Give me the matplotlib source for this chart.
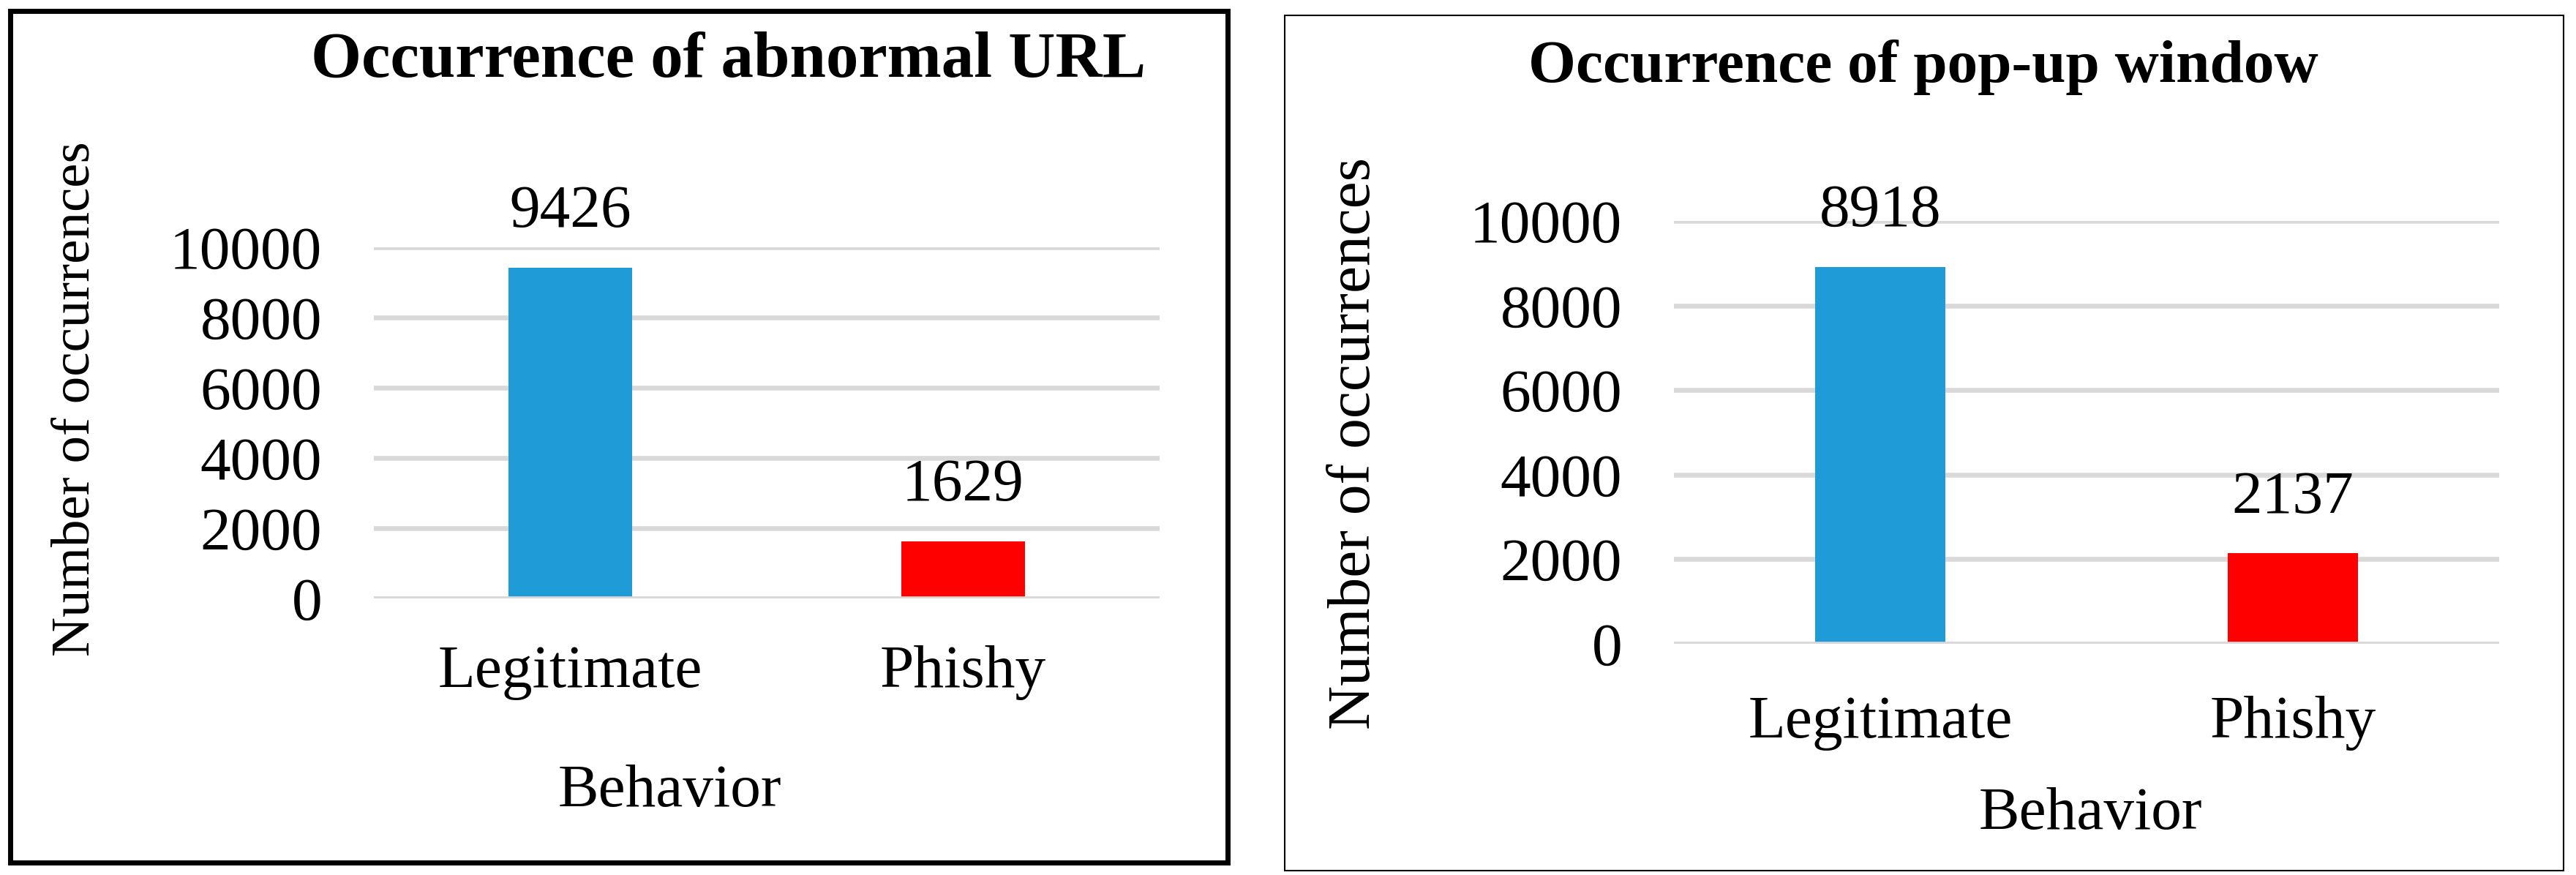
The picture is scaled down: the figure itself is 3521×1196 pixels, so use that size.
import matplotlib
matplotlib.use("Agg")
import matplotlib.pyplot as plt
from matplotlib.patches import Rectangle

# data
categories = ["Legitimate", "Phishy"]
url_counts = [9426, 1629]
popup_counts = [8918, 2137]
titles = ["Occurrence of abnormal URL", "Occurrence of pop-up window"]
y_ticks = [0, 2000, 4000, 6000, 8000, 10000]

BAR_COLORS = ["#1F9CD8", "#FF0000"]
GRID = "#D9D9D9"
W, H = 3521, 1196

plt.rcParams["font.family"] = ["Liberation Serif", "DejaVu Serif"]
fig = plt.figure(figsize=(W / 100, H / 100), dpi=100)


def px_rect(x0, y0, x1, y1):
    """pixel box (top-left origin) -> figure fraction rect"""
    return [x0 / W, 1 - y1 / H, (x1 - x0) / W, (y1 - y0) / H]


def draw_panel(rect, counts, title, title_xy, title_size, ylab_xy, ylab_size,
               xlab_xy, xpad):
    ax = fig.add_axes(px_rect(*rect))
    ax.set_axisbelow(True)
    ax.yaxis.grid(True, color=GRID, linewidth=4.8)
    ax.bar(range(len(categories)), counts, width=0.315, color=BAR_COLORS, zorder=2)
    ax.axhline(0, color=GRID, linewidth=4.8, zorder=3)
    ax.set_xlim(-0.5, len(categories) - 0.5)
    ax.set_ylim(0, 10000)
    ax.set_yticks(y_ticks)
    ax.set_xticks(range(len(categories)))
    ax.set_xticklabels(categories)
    ax.tick_params(axis="y", length=0, pad=51, labelsize=60)
    ax.tick_params(axis="x", length=0, pad=xpad, labelsize=60)
    for s in ax.spines.values():
        s.set_visible(False)
    for i, v in enumerate(counts):
        ax.annotate(str(v), (i, v), xytext=(0, 40), textcoords="offset points",
                    ha="center", va="baseline", fontsize=60, annotation_clip=False)
    fig.text(title_xy[0] / W, 1 - title_xy[1] / H, title, fontsize=title_size,
             fontweight="bold", ha="center", va="baseline")
    fig.text(ylab_xy[0] / W, 1 - ylab_xy[1] / H, "Number of occurrences",
             fontsize=ylab_size, rotation=90, rotation_mode="anchor",
             ha="center", va="baseline")
    fig.text(xlab_xy[0] / W, 1 - xlab_xy[1] / H, "Behavior", fontsize=60,
             ha="center", va="baseline")
    return ax


draw_panel((511, 338, 1585, 818), url_counts, titles[0], (996, 105), 64,
           (122, 545), 54, (915, 1102), 46)
draw_panel((2288, 302, 3416, 880), popup_counts, titles[1], (2629, 112), 60,
           (1872, 606), 60, (2857, 1133), 51)

# panel frames
x0, y0, w, h = px_rect(13.5, 14.5, 1677.5, 1178.5)
fig.add_artist(Rectangle((x0, y0), w, h, transform=fig.transFigure,
                         fill=False, edgecolor="black", linewidth=5))
x0, y0, w, h = px_rect(1756, 21, 3504, 1190)
fig.add_artist(Rectangle((x0, y0), w, h, transform=fig.transFigure,
                         fill=False, edgecolor="black", linewidth=1.5))

fig.savefig("out.png", dpi=100)
